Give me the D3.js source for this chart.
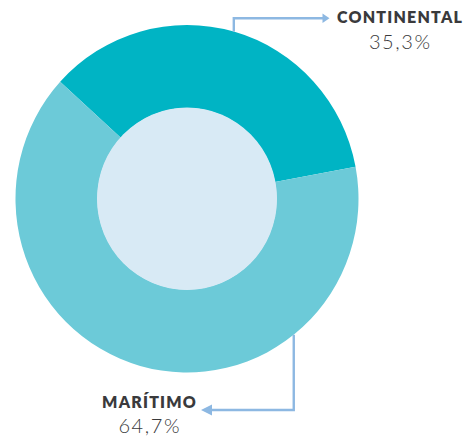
<!DOCTYPE html>
<html>
<head>
<meta charset="utf-8">
<script src="https://cdn.jsdelivr.net/npm/d3@7"></script>
<style>
  html, body { margin: 0; padding: 0; background: #ffffff; }
  svg { display: block; }
</style>
</head>
<body>
<svg id="chart" width="470" height="438"></svg>
<script>
// Share of transport by mode
const categories = ["CONTINENTAL", "MARÍTIMO"];
const values = [35.3, 64.7];
const valueLabels = ["35,3%", "64,7%"];
const sliceColors = ["#00b4c4", "#6ccad8"];

const width = 470, height = 438;
const cx = 187, cy = 198.75, stretchY = 1.013;
const outerR = 171.5, innerR = 90;
const holeColor = "#d8eaf5";
const leaderColor = "#8db8e2";
const textColor = "#3a3a3c";

const deg = Math.PI / 180;
const startAngle = -47.7 * deg;

const svg = d3.select("#chart");

const ring = svg.append("g")
  .attr("transform", `translate(${cx},${cy}) scale(1,${stretchY})`);

const pie = d3.pie()
  .sort(null)
  .value(d => d)
  .startAngle(startAngle)
  .endAngle(startAngle + 2 * Math.PI);

const arc = d3.arc().innerRadius(innerR - 0.5).outerRadius(outerR);

const slices = pie(values);

ring.selectAll("path.slice")
  .data(slices)
  .join("path")
  .attr("class", "slice")
  .attr("d", arc)
  .attr("fill", (d, i) => sliceColors[i]);

ring.append("circle")
  .attr("r", innerR)
  .attr("fill", holeColor);

// point on the outer rim at a given angle (clockwise from 12 o'clock)
function rim(angle) {
  return [cx + Math.sin(angle) * outerR, cy - Math.cos(angle) * outerR * stretchY];
}

// leader lines with arrow heads
const contStart = rim((slices[0].startAngle + slices[0].endAngle) / 2);
const marStart = rim(141.5 * deg);

const leaders = [
  { pts: [contStart, [contStart[0], 18.3], [323, 18.3]], tip: [329.5, 18.3], dir: 1, len: 7, half: 4.8 },
  { pts: [marStart, [marStart[0], 410], [211, 410]], tip: [201, 410], dir: -1, len: 11, half: 5.5 }
];

const line = d3.line();
leaders.forEach(l => {
  svg.append("path")
    .attr("d", line(l.pts))
    .attr("fill", "none")
    .attr("stroke", leaderColor)
    .attr("stroke-width", 2.4);
  const [tx, ty] = l.tip;
  const bx = tx - l.dir * l.len;
  svg.append("path")
    .attr("d", line([[tx, ty], [bx, ty - l.half], [bx, ty + l.half]]) + "Z")
    .attr("fill", leaderColor);
});

// labels
const labelPos = [
  { x: 399.5, name: 23, value: 49 },
  { x: 149, name: 408, value: 433 }
];
const nameSpacing = 1.2, valueSpacing = 1.6;

categories.forEach((c, i) => {
  svg.append("text")
    .attr("x", labelPos[i].x + nameSpacing / 2)
    .attr("y", labelPos[i].name)
    .attr("text-anchor", "middle")
    .attr("font-family", "Lato, 'Open Sans', sans-serif")
    .attr("font-weight", 800)
    .attr("font-size", 16)
    .attr("letter-spacing", nameSpacing)
    .attr("fill", textColor)
    .text(c);
  svg.append("text")
    .attr("x", labelPos[i].x + valueSpacing / 2)
    .attr("y", labelPos[i].value)
    .attr("text-anchor", "middle")
    .attr("font-family", "Lato, 'Open Sans', sans-serif")
    .attr("font-weight", 300)
    .attr("font-size", 20)
    .attr("letter-spacing", valueSpacing)
    .attr("fill", textColor)
    .text(valueLabels[i]);
});
</script>
</body>
</html>
